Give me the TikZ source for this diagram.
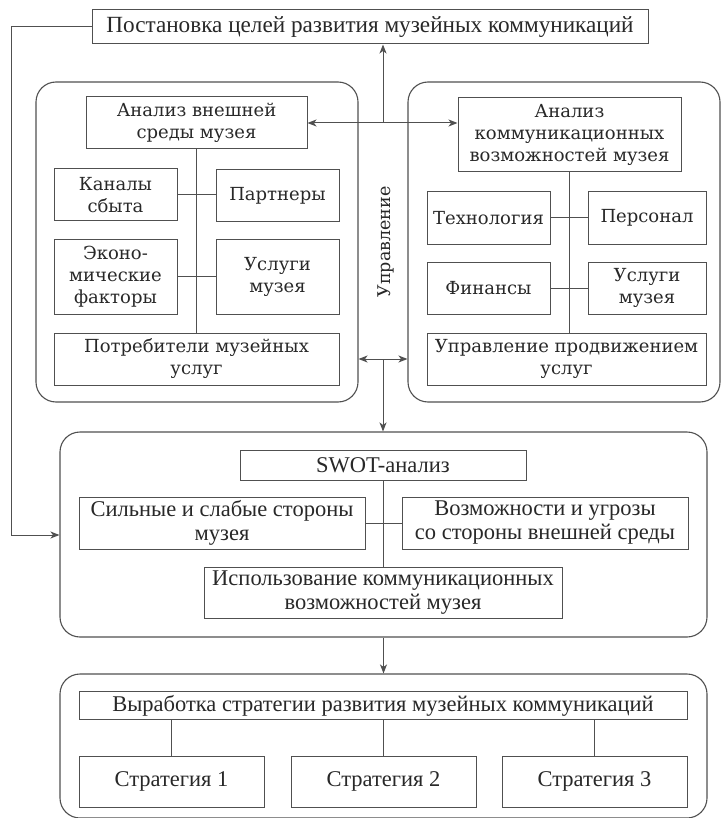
\documentclass[tikz,border=0pt]{standalone}
\usepackage{fontspec}
\usetikzlibrary{arrows.meta,positioning,calc}
\newfontfamily\panelfont{DejaVu Serif}
\newfontfamily\plainfont{Liberation Serif}
\definecolor{lineGray}{RGB}{80,80,80}
\definecolor{textGray}{RGB}{40,40,40}
\tikzset{
  panel/.style={draw=lineGray, rounded corners=20pt, line width=1.1pt, inner sep=0pt},
  wbox/.style={draw=lineGray, line width=1pt, inner sep=0pt, align=center, text=textGray, font=\panelfont\fontsize{18}{22}\selectfont},
  nbox/.style={draw=lineGray, line width=1pt, inner sep=0pt, align=center, text=textGray, font=\plainfont\fontsize{22.5}{24}\selectfont},
  link/.style={draw=lineGray, line width=1pt},
  arrow/.style={-{Stealth[length=9pt,width=7pt,inset=2.5pt]}, draw=lineGray, line width=1pt},
  dbl/.style={{Stealth[length=9pt,width=7pt,inset=2.5pt]}-{Stealth[length=9pt,width=7pt,inset=2.5pt]}, draw=lineGray, line width=1pt}
}

\begin{document}
\begin{tikzpicture}[x=1pt, y=-1pt]
  \useasboundingbox (0,0) rectangle (721,818);
  % goals
  \node[nbox, minimum width=556pt, minimum height=34pt, font=\plainfont\fontsize{23.2}{24}\selectfont] (goal) at (370,27) {Постановка целей развития музейных коммуникаций};

  % external environment
  \node[panel, minimum width=322pt, minimum height=320pt] (lp) at (197,242) {};
  \node[wbox, minimum width=221pt, minimum height=52pt] (ext) at (196.5,123) {Анализ внешней\\среды музея};
  \node[wbox, minimum width=123pt, minimum height=52pt] (chan) at (115.5,195) {Каналы\\сбыта};
  \node[wbox, minimum width=123pt, minimum height=52pt] (part) at (277.5,196) {Партнеры};
  \node[wbox, minimum width=123pt, minimum height=75pt] (econ) at (115.5,276.5) {Эконо-\\мические\\факторы};
  \node[wbox, minimum width=123pt, minimum height=75pt] (servA) at (277.5,276.5) {Услуги\\музея};
  \node[wbox, minimum width=285pt, minimum height=52pt] (cons) at (196.5,359) {Потребители музейных\\услуг};

  % communication capabilities
  \node[panel, minimum width=312pt, minimum height=320pt] (rp) at (564,242) {};
  \node[wbox, minimum width=223pt, minimum height=74pt] (comm) at (569.5,135) {Анализ\\коммуникационных\\возможностей музея};
  \node[wbox, minimum width=123pt, minimum height=52pt] (tech) at (488.5,218) {Технология};
  \node[wbox, minimum width=118pt, minimum height=52pt] (staff) at (647,218) {Персонал};
  \node[wbox, minimum width=123pt, minimum height=52pt] (fin) at (488.5,288) {Финансы};
  \node[wbox, minimum width=118pt, minimum height=52pt] (servB) at (647,288) {Услуги\\музея};
  \node[wbox, minimum width=279pt, minimum height=52pt] (prom) at (566.5,359) {Управление продвижением\\услуг};

  \node[text=textGray, font=\panelfont\fontsize{17.5}{22}\selectfont, rotate=90] (mgmt) at (386,242) {Управление};

  % SWOT
  \node[panel, minimum width=647pt, minimum height=205pt] (swot) at (383.5,534.5) {};
  \node[nbox, minimum width=286pt, minimum height=30pt] (swotA) at (383,465) {SWOT-анализ};
  \node[nbox, minimum width=286pt, minimum height=52pt] (strong) at (222,523) {Сильные и слабые стороны\\музея};
  \node[nbox, minimum width=286pt, minimum height=52pt] (opp) at (545,523) {Возможности и угрозы\\со стороны внешней среды};
  \node[nbox, minimum width=358pt, minimum height=51pt] (use) at (383,592.5) {Использование коммуникационных\\возможностей музея};

  % strategies
  \node[panel, minimum width=647pt, minimum height=144pt] (strat) at (383.5,746) {};
  \node[nbox, minimum width=608pt, minimum height=28pt] (devel) at (383,705.5) {Выработка стратегии развития музейных коммуникаций};
  \node[nbox, minimum width=185pt, minimum height=51pt] (s1) at (171.5,781.5) {Стратегия 1};
  \node[nbox, minimum width=185pt, minimum height=51pt] (s2) at (383.5,781.5) {Стратегия 2};
  \node[nbox, minimum width=185pt, minimum height=51pt] (s3) at (594.5,781.5) {Стратегия 3};

  \coordinate (up) at (383,123);
  \coordinate (mid) at (383,359);
  \coordinate (fb) at (11,535);

  \draw[link] (ext.south) -- (cons.north);
  \draw[link] (chan.east) -- (chan.east -| part.west);
  \draw[link] (econ) -- (servA);
  \draw[link] (comm.south) -- (comm.south |- prom.north);
  \draw[link] (tech) -- (staff);
  \draw[link] (fin) -- (servB);
  \draw[link] (swotA.south) -- (use.north);
  \draw[link] (strong) -- (opp);
  \draw[link] (devel.south -| s1) -- (s1.north);
  \draw[link] (devel.south -| s2) -- (s2.north);
  \draw[link] (devel.south -| s3) -- (s3.north);

  \draw[dbl] (ext.east |- up) -- (comm.west |- up);
  \draw[arrow] (up) -- (up |- goal.south);
  \draw[dbl] (lp.east |- mid) -- (rp.west |- mid);
  \draw[arrow] (mid) -- (mid |- swot.north);
  \draw[arrow] (goal.west) -| (fb) -- (fb -| swot.west);
  \draw[arrow] (swot.south) -- (strat.north);
\end{tikzpicture}
\end{document}
